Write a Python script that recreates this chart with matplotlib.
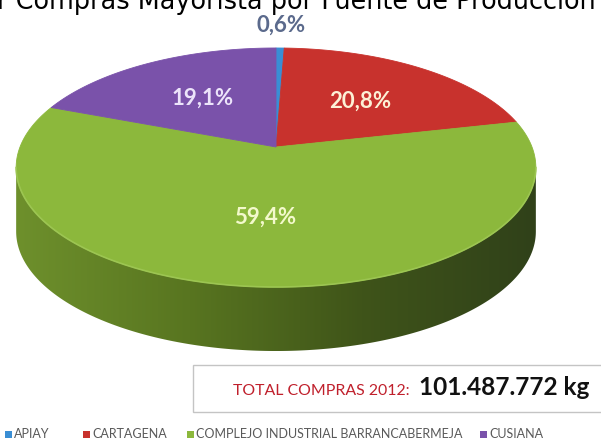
import numpy as np
import matplotlib
matplotlib.use('Agg')
import matplotlib.pyplot as plt
from matplotlib.patches import Polygon, Rectangle
from matplotlib.colors import LinearSegmentedColormap

# Data
categories = ['APIAY', 'CARTAGENA', 'COMPLEJO INDUSTRIAL BARRANCABERMEJA', 'CUSIANA']
shares = [0.6, 20.8, 59.4, 19.1]
slice_colors = ['#3a8ed4', '#c8322d', '#8cb83c', '#7a52aa']
label_colors = ['#5b6a8c', '#fdf1d6', '#f3f9cc', '#ece4fa']
title_text = 'r Compras Mayorista por Fuente de Producción'
total_label = 'TOTAL COMPRAS 2012:'
total_value = '101.487.772 kg'

# pixel canvas
W, H = 601, 441
fig = plt.figure(figsize=(W / 100, H / 100), dpi=100)
ax = fig.add_axes([0, 0, 1, 1])
ax.set_xlim(0, W)
ax.set_ylim(H, 0)
ax.axis('off')

# 3D pie projection (angle clockwise from 12 o'clock)
cx, cy = 276, 147
R, A, tilt = 256, 116, 0.1715
depth = 64


def proj(theta, r=1.0, drop=0.0):
    th = np.radians(theta)
    u = r * np.sin(th)
    v = -r * np.cos(th)
    k = 1.0 / (1.0 - tilt * v)
    return cx + R * u * k, cy + A * v * k + drop


fracs = np.array(shares) / sum(shares)
edges = np.concatenate([[0], np.cumsum(fracs)]) * 360

# silhouette extremes define the visible side
ts = np.linspace(0, 360, 3601)
xs, _ = proj(ts)
t_right = ts[np.argmax(xs)]
t_left = ts[np.argmin(xs)]

# side walls
side_dark = LinearSegmentedColormap.from_list('side', ['#6e902c', '#587520', '#3f5419', '#30411a'])
for i in range(len(shares)):
    a0 = max(edges[i], t_right)
    a1 = min(edges[i + 1], t_left)
    if a1 <= a0:
        continue
    arc = np.linspace(a0, a1, 200)
    tx, ty = proj(arc)
    bx, by = proj(arc[::-1], drop=depth)
    pts = np.column_stack([np.concatenate([tx, bx]), np.concatenate([ty, by])])
    side = Polygon(pts, closed=True, facecolor='none', edgecolor='none')
    ax.add_patch(side)
    grad = np.linspace(0, 1, 256).reshape(1, -1)
    im = ax.imshow(grad, cmap=side_dark, extent=[tx.min(), tx.max(), by.max(), ty.min()],
                   aspect='auto', zorder=2)
    im.set_clip_path(side)

# top face
for i in range(len(shares)):
    arc = np.linspace(edges[i], edges[i + 1], 200)
    x, y = proj(arc)
    pts = np.column_stack([np.concatenate([[cx], x]), np.concatenate([[cy], y])])
    ax.add_patch(Polygon(pts, closed=True, facecolor=slice_colors[i],
                         edgecolor=slice_colors[i], lw=0.6, zorder=3))

# rim highlight between top and side
arc = np.linspace(t_right, t_left, 200)
x, y = proj(arc)
ax.plot(x, y, color='#9cc552', lw=1.2, zorder=4)

# data labels
for i in range(len(shares)):
    mid = (edges[i] + edges[i + 1]) / 2
    r = 1.28 if shares[i] < 2 else 0.55
    lx, ly = proj(mid, r)
    ax.text(lx, ly, f'{shares[i]:.1f}%'.replace('.', ','), ha='center', va='center',
            fontsize=16, fontweight='bold', family='Lato', color=label_colors[i], zorder=5)

# title, cut off at the top edge like the reference
ax.text(-3, 9, title_text, ha='left', va='baseline', fontsize=18.4,
        family='DejaVu Sans', color='black', zorder=5)

# total box
ax.add_patch(Rectangle((193, 365), 420, 47, facecolor='white', edgecolor='#c4c4c4', lw=1, zorder=5))
ax.text(233, 395, total_label, ha='left', va='baseline', fontsize=11.4,
        family='Lato', color='#c0202c', zorder=6)
ax.text(419, 395, total_value, ha='left', va='baseline', fontsize=17.6,
        family='Lato', fontweight='bold', color='#111111', zorder=6)

# legend
leg_x = [5, 83, 187, 480]
for i, name in enumerate(categories):
    ax.add_patch(Rectangle((leg_x[i], 431), 7, 7, facecolor=slice_colors[i],
                           edgecolor='none', zorder=6))
    ax.text(leg_x[i] + 9, 438.5, name, ha='left', va='baseline', fontsize=9,
            family='Lato', color='#595959', zorder=6)

fig.savefig('out.png', dpi=100)
